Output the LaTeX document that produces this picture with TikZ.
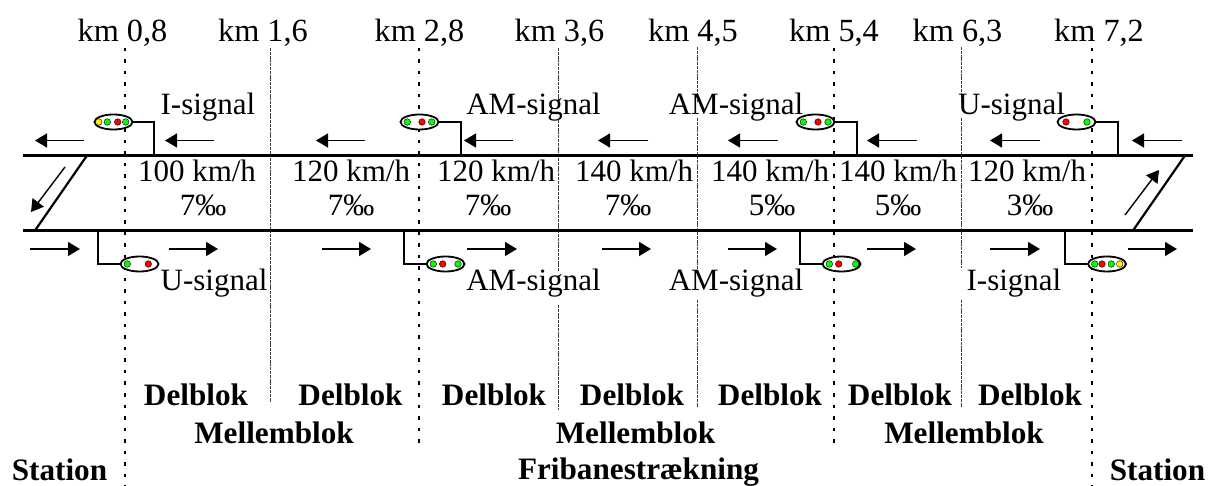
\documentclass[tikz,border=0pt]{standalone}
\usepackage{fontspec}
\setmainfont{Liberation Serif}
\usetikzlibrary{arrows.meta,shapes.geometric}
\tikzset{
  lab/.style={font=\fontsize{31}{31}\selectfont,anchor=base,inner sep=0pt,text=black},
  kmlab/.style={lab,font=\fontsize{32.3}{32.3}\selectfont},
  blab/.style={lab,font=\fontsize{31.2}{31}\selectfont\bfseries},
  track/.style={line width=2.2pt,black},
  post/.style={line width=1.7pt,black},
  dotline/.style={line width=2pt,black,dash pattern=on 3.5pt off 8pt},
  thinline/.style={line width=.7pt,black!75,dash pattern=on 3pt off .8pt},
  dirarrow/.style={line width=1.4pt,black,-{Triangle[length=12pt,width=14pt]},shorten >=0pt},
  sig/.style={draw=black,line width=1.8pt,ellipse,fill=white,minimum width=38pt,minimum height=15pt,inner sep=0pt},
  lampbase/.style={circle,draw=black,line width=.4pt,minimum size=6.6pt,inner sep=0pt},
  gl/.style={lampbase,fill=green},
  rl/.style={lampbase,fill=red},
  yl/.style={lampbase,fill=yellow}
}
\begin{document}
\begin{tikzpicture}[x=1pt,y=-1pt]
\useasboundingbox (0,0) rectangle (1216,486);
% block boundaries
\foreach \n/\x/\b in {a/125/486,b/419/443,c/834/443,d/1092/486}{
  \coordinate (dt\n) at (\x,48);
  \coordinate (db\n) at (\x,\b);
  \draw[dotline] (dt\n) -- (db\n);
}
\coordinate (t1a) at (270,48); \coordinate (t1b) at (270,402);
\draw[thinline] (t1a) -- (t1b);
\foreach \n/\x/\s/\e in {a/558/48/102,b/558/120/272,c/558/305/410,d/697/47/102,e/697/118/272,f/697/300/407,g/961/47/102,h/961/118/268,i/961/300/407}{
  \coordinate (s\n t) at (\x,\s);
  \coordinate (s\n b) at (\x,\e);
  \draw[thinline] (s\n t) -- (s\n b);
}
% tracks
\coordinate (tl) at (23,155.5); \coordinate (tr) at (1193,155.5);
\coordinate (bl) at (23,230.5); \coordinate (br) at (1193,230.5);
\draw[track] (tl) -- (tr);
\draw[track] (bl) -- (br);
\coordinate (x1a) at (87,155.5); \coordinate (x1b) at (35,230.5);
\coordinate (x2a) at (1185,155.5); \coordinate (x2b) at (1133,230.5);
\draw[track] (x1a) -- (x1b);
\draw[track] (x2a) -- (x2b);
% direction arrows
\foreach \i/\a/\b in {1/84/35,2/214/165,3/365/316,4/513/464,5/648/598,6/778/728,7/917/867,8/1040/990,9/1182/1132}{
  \coordinate (ua\i) at (\a,140.5); \coordinate (ub\i) at (\b,140.5);
  \draw[dirarrow] (ua\i) -- (ub\i);
}
\foreach \i/\a/\b in {1/30/80,2/169/218,3/322/371,4/467/517,5/602/651,6/728/777,7/867/916,8/990/1040,9/1128/1177}{
  \coordinate (la\i) at (\a,249); \coordinate (lb\i) at (\b,249);
  \draw[dirarrow] (la\i) -- (lb\i);
}
\coordinate (d1a) at (65,167); \coordinate (d1b) at (31,212);
\coordinate (d2a) at (1125,215); \coordinate (d2b) at (1159,170);
\draw[dirarrow] (d1a) -- (d1b);
\draw[dirarrow] (d2a) -- (d2b);
% signals on the upper track
\node[sig] (s1) at (113.5,122) {};
\node[sig] (s2) at (419.5,122) {};
\node[sig] (s3) at (815.5,122) {};
\node[sig] (s4) at (1076.5,122) {};
\foreach \n/\x in {s1/154,s2/461,s3/857,s4/1118}{
  \coordinate (\n f) at (\x,155.5);
  \draw[post] (\n.east) -| (\n f);
}
% signals on the lower track
\node[sig] (s5) at (139.5,264) {};
\node[sig] (s6) at (445.5,264) {};
\node[sig] (s7) at (841.5,264) {};
\node[sig] (s8) at (1107,264) {};
\foreach \n/\x in {s5/98,s6/404,s7/800,s8/1065}{
  \coordinate (\n f) at (\x,230.5);
  \draw[post] (\n f) |- (\n.west);
}
% lamps
\foreach \n/\s/\x/\y in {
 a/yl/98.7/122,b/gl/107.3/122,c/rl/117.7/122,d/gl/125.7/122,
 e/gl/407.3/122,f/rl/422/122,g/gl/431.7/122,
 h/gl/803.3/122,i/rl/818/122,j/gl/828/122,
 k/rl/1066/122,l/gl/1087/122,
 m/gl/127.3/264,n/rl/148.3/264,
 o/gl/433.3/264,p/rl/442.7/264,q/gl/458/264,
 r/gl/829.3/264,s/rl/838.7/264,t/gl/855.7/264,
 u/gl/1094.7/264,v/rl/1102/264,w/gl/1111.3/264,x/yl/1119.7/264}{
  \node[\s] (lamp\n) at (\x,\y) {};
}
% kilometre labels
\foreach \i/\x/\t in {1/122.5/{km 0,8},2/263/{km 1,6},3/419.5/{km 2,8},4/559.5/{km 3,6},5/693/{km 4,5},6/834/{km 5,4},7/957.5/{km 6,3},8/1099/{km 7,2}}{
  \node[kmlab] (km\i) at (\x,42) {\t};
}
% signal labels
\foreach \i/\x/\y/\t in {1/208/115/I-signal,2/533.5/115/AM-signal,3/736/115/AM-signal,4/1011.5/115/U-signal,5/214/291/U-signal,6/533.5/291/AM-signal,7/736/291/AM-signal,8/1014/291/I-signal}{
  \node[lab] (sl\i) at (\x,\y) {\t};
}
% speed and gradient
\foreach \i/\x/\t in {1/197/100,2/351/120,3/496/120,4/634/140,5/770/140,6/898/140,7/1027/120}{
  \node[lab] (v\i) at (\x,182) {\t{} km/h};
}
\foreach \i/\x/\t in {1/203/7,2/351/7,3/488/7,4/628/7,5/772/5,6/898/5,7/1030/3}{
  \node[lab] (g\i) at (\x,216) {\t‰};
}
% block labels
\foreach \i/\x in {1/196,2/350.5,3/494,4/632,5/770,6/900,7/1030}{
  \node[blab] (db\i) at (\x,405) {Delblok};
}
\foreach \i/\x in {1/274,2/635.5,3/964}{
  \node[blab] (mb\i) at (\x,443) {Mellemblok};
}
\node[blab] (fri) at (638.5,479) {Fribanestrækning};
\node[blab] (st1) at (59.5,480) {Station};
\node[blab] (st2) at (1157.5,480) {Station};
\end{tikzpicture}
\end{document}
